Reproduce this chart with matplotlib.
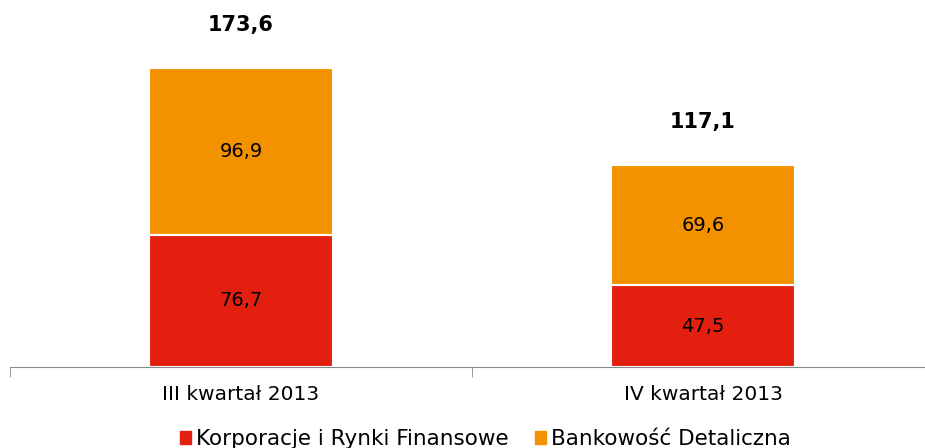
import matplotlib.pyplot as plt
from matplotlib.patches import Patch

categories = ['III kwartał 2013', 'IV kwartał 2013']
korporacje = [76.7, 47.5]
bankowosc = [96.9, 69.6]
series_names = ['Korporacje i Rynki Finansowe', 'Bankowość Detaliczna']

red = '#E3200F'
orange = '#F39200'

plt.rcParams['font.family'] = ['DejaVu Sans']

fig = plt.figure(figsize=(9.25, 4.48), dpi=100)
ax = fig.add_axes([10 / 925, 81 / 448, 924 / 925, 367 / 448])

x = list(range(len(categories)))
ax.bar(x, korporacje, width=0.4, color=red, edgecolor='white', linewidth=1.5)
ax.bar(x, bankowosc, width=0.4, bottom=korporacje, color=orange,
       edgecolor='white', linewidth=1.5)

for i in x:
    ax.text(i, korporacje[i] / 2, f'{korporacje[i]:.1f}'.replace('.', ','),
            ha='center', va='center', fontsize=14, color='black')
    ax.text(i, korporacje[i] + bankowosc[i] / 2, f'{bankowosc[i]:.1f}'.replace('.', ','),
            ha='center', va='center', fontsize=14, color='black')
    total = korporacje[i] + bankowosc[i]
    ax.annotate(f'{total:.1f}'.replace('.', ','), (i, total), xytext=(0, 31),
                textcoords='offset points', ha='center', va='center',
                fontsize=15, fontweight='bold')

ax.set_xlim(-0.5, 1.5)
ax.set_ylim(0, 213.1)
ax.set_yticks([])
for s in ['top', 'right', 'left']:
    ax.spines[s].set_visible(False)
ax.spines['bottom'].set_color('#888888')
ax.set_xticks(x)
ax.set_xticklabels(categories, fontsize=14.5)
ax.tick_params(axis='x', which='major', length=0, pad=13)
ax.set_xticks([-0.5, 0.5, 1.5], minor=True)
ax.tick_params(axis='x', which='minor', length=7, color='#888888')

handles = [Patch(color=red), Patch(color=orange)]
fig.legend(handles, series_names, loc='center', bbox_to_anchor=(0.525, 0.02),
           ncol=2, frameon=False, fontsize=15.5, handlelength=0.5, handleheight=0.5,
           handletextpad=0.25, columnspacing=1.2)

fig.savefig('out.png', dpi=100)
